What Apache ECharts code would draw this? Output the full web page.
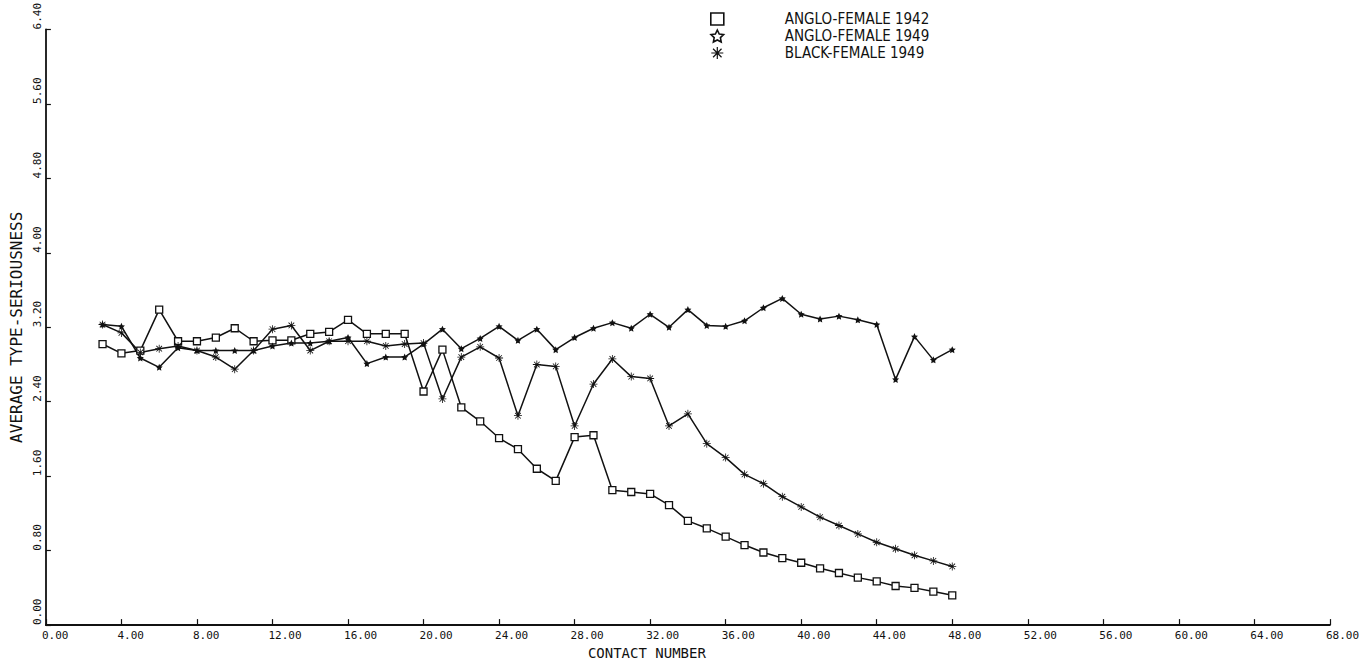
<!DOCTYPE html>
<html>
<head>
<meta charset="utf-8">
<script src="https://cdn.jsdelivr.net/npm/echarts@6/dist/echarts.min.js"></script>
<style>
html,body{margin:0;padding:0;background:#fff;}
#chart{width:1362px;height:665px;}
</style>
</head>
<body>
<div id="chart"></div>
<script>
// Contact numbers (x)
var contacts = [3,4,5,6,7,8,9,10,11,12,13,14,15,16,17,18,19,20,21,22,23,24,25,26,27,28,29,30,31,32,33,34,35,36,37,38,39,40,41,42,43,44,45,46,47,48];

// ANGLO-FEMALE 1942 (squares)
var angloFemale1942 = [3.02,2.92,2.95,3.39,3.05,3.05,3.09,3.19,3.05,3.06,3.06,3.13,3.15,3.28,3.13,3.13,3.13,2.51,2.96,2.34,2.19,2.01,1.89,1.68,1.55,2.02,2.04,1.45,1.43,1.41,1.29,1.12,1.04,0.95,0.86,0.78,0.72,0.67,0.61,0.56,0.51,0.47,0.42,0.40,0.36,0.32];

// ANGLO-FEMALE 1949 (stars)
var angloFemale1949 = [3.23,3.21,2.87,2.77,2.98,2.95,2.95,2.95,2.95,3.00,3.03,3.03,3.05,3.09,2.81,2.88,2.88,3.02,3.18,2.97,3.08,3.21,3.06,3.18,2.96,3.09,3.19,3.25,3.19,3.34,3.20,3.39,3.22,3.21,3.27,3.41,3.51,3.34,3.29,3.32,3.28,3.23,2.64,3.10,2.85,2.96];

// BLACK-FEMALE 1949 (asterisks)
var blackFemale1949 = [3.23,3.14,2.93,2.97,3.00,2.95,2.88,2.75,2.95,3.18,3.22,2.95,3.05,3.05,3.05,3.00,3.02,3.03,2.43,2.88,2.99,2.87,2.25,2.80,2.78,2.14,2.59,2.86,2.67,2.65,2.14,2.27,1.95,1.80,1.62,1.52,1.38,1.27,1.16,1.07,0.98,0.89,0.82,0.75,0.69,0.63];

var seriesNames = ['ANGLO-FEMALE 1942','ANGLO-FEMALE 1949','BLACK-FEMALE 1949'];
var xTicks = {min:0, max:68, interval:4};
var yTicks = {min:0, max:6.4, interval:0.8};

function pairs(vals){ return contacts.map(function(c,i){ return [c, vals[i]]; }); }

var starPath = 'path://M0,-10 L2.9,-4 9.5,-3.1 4.7,1.5 5.9,8.1 0,5 -5.9,8.1 -4.7,1.5 -9.5,-3.1 -2.9,-4 Z';
var astPath = 'path://M-1,-10 L1,-10 L1,10 L-1,10 Z M-10,-1 L10,-1 L10,1 L-10,1 Z M-6.36,-7.78 L7.78,6.36 L6.36,7.78 L-7.78,-6.36 Z M-7.78,6.36 L6.36,-7.78 L7.78,-6.36 L-6.36,7.78 Z';

var mono = '"DejaVu Sans Mono", "Liberation Mono", monospace';
var narrow = '"Liberation Sans Narrow", "DejaVu Sans Condensed", "Roboto", sans-serif';

var chart = echarts.init(document.getElementById('chart'), null, {renderer:'svg'});
chart.setOption({
  backgroundColor:'#ffffff',
  animation:false,
  grid:{left:42, right:30, top:20, bottom:33, containLabel:false},
  legend:{
    orient:'vertical', left:705, top:6, itemGap:1, itemWidth:13, itemHeight:12,
    textStyle:{fontFamily:narrow, fontSize:15, lineHeight:16, color:'#111', padding:[0,0,0,56]},
    data:[
      {name:seriesNames[0], icon:'rect', itemStyle:{color:'#fff', borderColor:'#111', borderWidth:1.6}},
      {name:seriesNames[1], icon:starPath, itemStyle:{color:'#fff', borderColor:'#111', borderWidth:1.6}},
      {name:seriesNames[2], icon:astPath, itemStyle:{color:'#111', borderWidth:0}}
    ]
  },
  xAxis:{
    type:'value', min:xTicks.min, max:xTicks.max, interval:xTicks.interval,
    name:'CONTACT NUMBER', nameLocation:'middle', nameGap:16,
    nameTextStyle:{fontFamily:mono, fontSize:14, color:'#111', padding:[0,82,0,0]},
    axisLine:{lineStyle:{color:'#111', width:1.8}},
    axisTick:{inside:true, length:6, lineStyle:{color:'#111', width:1.2}},
    axisLabel:{fontFamily:mono, fontSize:11, color:'#111', align:'left', margin:5, padding:[0,0,0,-4],
      formatter:function(v){return v.toFixed(2);}},
    splitLine:{show:false}
  },
  yAxis:{
    type:'value', min:yTicks.min, max:yTicks.max, interval:yTicks.interval,
    name:'AVERAGE TYPE-SERIOUSNESS', nameLocation:'middle', nameGap:16, nameRotate:90,
    nameTextStyle:{fontFamily:mono, fontSize:16, color:'#111', align:'center', verticalAlign:'bottom'},
    axisLine:{lineStyle:{color:'#111', width:1.8}},
    axisTick:{inside:true, length:5, lineStyle:{color:'#111', width:1.2}},
    axisLabel:{fontFamily:mono, fontSize:11, color:'#111', rotate:90, align:'left', verticalAlign:'bottom', margin:3,
      formatter:function(v){return v.toFixed(2);}},
    splitLine:{show:false}
  },
  series:[
    {name:seriesNames[0], type:'line', data:pairs(angloFemale1942), symbol:'rect', symbolSize:7,
      itemStyle:{color:'#fff', borderColor:'#111', borderWidth:1.3}, lineStyle:{color:'#111', width:1.5}},
    {name:seriesNames[1], type:'line', data:pairs(angloFemale1949), symbol:starPath, symbolSize:7,
      itemStyle:{color:'#111'}, lineStyle:{color:'#111', width:1.5}},
    {name:seriesNames[2], type:'line', data:pairs(blackFemale1949), symbol:astPath, symbolSize:8,
      itemStyle:{color:'#111'}, lineStyle:{color:'#111', width:1.5}}
  ]
});
</script>
</body>
</html>
